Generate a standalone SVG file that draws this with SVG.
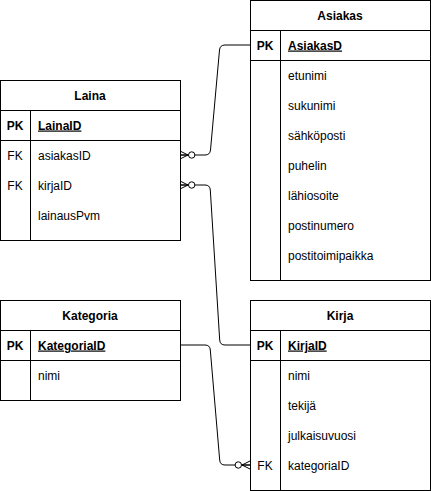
<svg xmlns="http://www.w3.org/2000/svg" width="431" height="491" viewBox="0 0 431 491">
<style>
.box{fill:#fff;stroke:#000;stroke-width:1}
.ln{stroke:#000;stroke-width:1;fill:none}
.t{font-family:"Liberation Sans",Arial,sans-serif;font-size:12px;fill:#000}
.h{font-weight:bold;text-anchor:middle}
.k{text-anchor:middle}
.pk{font-weight:bold}
.pn{font-weight:bold;text-decoration:underline}
.conn{stroke:#000;stroke-width:1;fill:none;marker-end:url(#zm)}
.conn.s{marker-end:none;marker-start:url(#zm)}
</style>
<defs>
<marker id="zm" markerUnits="userSpaceOnUse" viewBox="-16 -6 18 12" refX="0" refY="0" markerWidth="18" markerHeight="12" orient="auto-start-reverse" overflow="visible">
<path d="M0,-4 L-8,0 L0,4 M0,0 H-8" stroke="#000" stroke-width="1" fill="none"/>
<circle cx="-11.7" cy="0" r="3.2" fill="#fff" stroke="#000" stroke-width="1"/>
</marker>
</defs>
<g id="connectors">
<path class="conn s" d="M180,155 H205 Q210,155 210.5,150 L219.5,50 Q220,45 225,45 H250"/>
<path class="conn s" d="M180,185 H205 Q210,185 210.3,190 L219.7,340 Q220,345 225,345 H250"/>
<path class="conn" d="M180,345 H205 Q210,345 210.3,350 L219.7,460 Q220,465 225,465 H250"/>
</g>
<g id="Asiakas">
<rect class="box" x="250.5" y="0.5" width="180" height="280"/>
<path class="ln" d="M250.5,30.5 H430.5 M250.5,60.5 H430.5 M280.5,30.5 V280.5"/>
<text class="t h" x="340" y="19.5">Asiakas</text>
<text class="t pk k" x="265" y="49.5">PK</text>
<text class="t pn" x="288" y="49.5">AsiakasD</text>
<text class="t" x="288" y="79.5">etunimi</text>
<text class="t" x="288" y="109.5">sukunimi</text>
<text class="t" x="288" y="139.5">sähköposti</text>
<text class="t" x="288" y="169.5">puhelin</text>
<text class="t" x="288" y="199.5">lähiosoite</text>
<text class="t" x="288" y="229.5">postinumero</text>
<text class="t" x="288" y="259.5">postitoimipaikka</text>
</g>
<g id="Laina">
<rect class="box" x="0.5" y="80.5" width="180" height="160"/>
<path class="ln" d="M0.5,110.5 H180.5 M0.5,140.5 H180.5 M30.5,110.5 V240.5"/>
<text class="t h" x="90" y="99.5">Laina</text>
<text class="t pk k" x="15" y="129.5">PK</text>
<text class="t pn" x="38" y="129.5">LainaID</text>
<text class="t k" x="15" y="159.5">FK</text>
<text class="t" x="38" y="159.5">asiakasID</text>
<text class="t k" x="15" y="189.5">FK</text>
<text class="t" x="38" y="189.5">kirjaID</text>
<text class="t" x="38" y="219.5">lainausPvm</text>
</g>
<g id="Kategoria">
<rect class="box" x="0.5" y="300.5" width="180" height="100"/>
<path class="ln" d="M0.5,330.5 H180.5 M0.5,360.5 H180.5 M30.5,330.5 V400.5"/>
<text class="t h" x="90" y="319.5">Kategoria</text>
<text class="t pk k" x="15" y="349.5">PK</text>
<text class="t pn" x="38" y="349.5">KategoriaID</text>
<text class="t" x="38" y="379.5">nimi</text>
</g>
<g id="Kirja">
<rect class="box" x="250.5" y="300.5" width="180" height="190"/>
<path class="ln" d="M250.5,330.5 H430.5 M250.5,360.5 H430.5 M280.5,330.5 V490.5"/>
<text class="t h" x="340" y="319.5">Kirja</text>
<text class="t pk k" x="265" y="349.5">PK</text>
<text class="t pn" x="288" y="349.5">KirjaID</text>
<text class="t" x="288" y="379.5">nimi</text>
<text class="t" x="288" y="409.5">tekijä</text>
<text class="t" x="288" y="439.5">julkaisuvuosi</text>
<text class="t k" x="265" y="469.5">FK</text>
<text class="t" x="288" y="469.5">kategoriaID</text>
</g>
</svg>
